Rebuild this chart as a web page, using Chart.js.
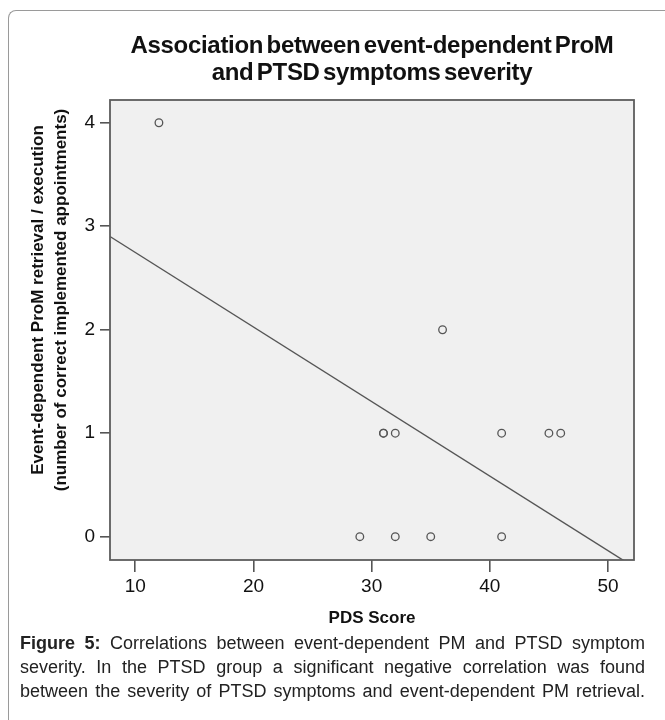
<!DOCTYPE html>
<html>
<head>
<meta charset="utf-8">
<script src="https://cdn.jsdelivr.net/npm/chart.js@4.4.1/dist/chart.umd.min.js"></script>
<style>
  body { margin: 0; background: #fff; font-family: "Liberation Sans", Arial, sans-serif; }
  #wrap { position: relative; width: 665px; height: 720px; overflow: hidden; }
  #frame { position: absolute; left: 8px; top: 10px; width: 720px; height: 760px;
           border-left: 1px solid #9a9a9a; border-top: 1px solid #9a9a9a; border-top-left-radius: 8px; }
  #title { position: absolute; left: 110px; width: 524px; top: 31px; text-align: center;
           font-weight: bold; font-size: 24px; line-height: 27px; color: #111; letter-spacing: -0.3px; word-spacing: -3px; }
  #ytitle { position: absolute; left: -161px; top: 277px; width: 420px; height: 46px; text-align: center;
            font-weight: bold; font-size: 17px; line-height: 23px; color: #111; transform: rotate(-90deg);
            white-space: nowrap; }
  #chart { position: absolute; left: 0; top: 0; }
  #caption { position: absolute; left: 20px; width: 625px; top: 631px; font-size: 18px; line-height: 24px;
             text-align: justify; text-align-last: justify; color: #222; white-space: nowrap; }
</style>
</head>
<body>
<div id="wrap">
  <div id="frame"></div>
  <canvas id="chart" width="665" height="640"></canvas>
  <div id="title">Association between event-dependent ProM<br>and PTSD symptoms severity</div>
  <div id="ytitle">Event-dependent ProM retrieval / execution<br>(number of correct implemented appointments)</div>
  <div id="caption"><b>Figure 5:</b> Correlations between event-dependent PM and PTSD symptom<br>severity. In the PTSD group a significant negative correlation was found<br>between the severity of PTSD symptoms and event-dependent PM retrieval.</div>
</div>
<script>
// PDS score (x) and correct implemented appointments (y)
const pdsScores = [12, 36, 31, 31, 32, 41, 45, 46, 29, 32, 35, 41];
const promScores = [4, 2, 1, 1, 1, 1, 1, 1, 0, 0, 0, 0];
const xTicks = [10, 20, 30, 40, 50];
const yTicks = [0, 1, 2, 3, 4];
const xRange = [7.86, 52.2];
const yRange = [-0.225, 4.22];

// least squares fit line
const n = pdsScores.length;
const mx = pdsScores.reduce((a, b) => a + b, 0) / n;
const my = promScores.reduce((a, b) => a + b, 0) / n;
let sxy = 0, sxx = 0;
for (let i = 0; i < n; i++) {
  sxy += (pdsScores[i] - mx) * (promScores[i] - my);
  sxx += (pdsScores[i] - mx) ** 2;
}
const slope = sxy / sxx;
const intercept = my - slope * mx;
const fitLine = xRange.map(x => ({ x: x, y: intercept + slope * x }));

const points = pdsScores.map((x, i) => ({ x: x, y: promScores[i] }));

const plotFrame = {
  id: 'plotFrame',
  beforeDatasetsDraw(chart) {
    const a = chart.chartArea, ctx = chart.ctx;
    ctx.save();
    ctx.fillStyle = '#f0f0f0';
    ctx.fillRect(a.left, a.top, a.right - a.left, a.bottom - a.top);
    ctx.restore();
  },
  afterDraw(chart) {
    const a = chart.chartArea, ctx = chart.ctx;
    ctx.save();
    ctx.strokeStyle = '#5c5c5c';
    ctx.lineWidth = 1.8;
    ctx.strokeRect(a.left, a.top, a.right - a.left, a.bottom - a.top);
    ctx.restore();
  }
};

new Chart(document.getElementById('chart').getContext('2d'), {
  type: 'scatter',
  data: {
    datasets: [{
      data: points,
      pointStyle: 'circle',
      pointRadius: 3.8,
      pointBackgroundColor: 'rgba(0,0,0,0)',
      pointBorderColor: '#555',
      pointBorderWidth: 1.3
    }, {
      data: fitLine,
      showLine: true,
      pointRadius: 0,
      borderColor: '#555',
      borderWidth: 1.4
    }]
  },
  plugins: [plotFrame],
  options: {
    responsive: false,
    animation: false,
    layout: { padding: { top: 100, right: 31, left: 0, bottom: 0 } },
    plugins: { legend: { display: false }, tooltip: { enabled: false } },
    scales: {
      x: {
        min: xRange[0], max: xRange[1],
        afterBuildTicks: s => { s.ticks = xTicks.map(v => ({ value: v })); },
        afterFit: s => { s.height = 80; },
        grid: { drawOnChartArea: false, drawTicks: true, tickLength: 12, color: '#555', lineWidth: 1.6 },
        border: { display: false },
        ticks: { font: { size: 19, family: 'Liberation Sans' }, color: '#111', padding: 3, maxRotation: 0 },
        title: { display: true, text: 'PDS Score', font: { size: 17, weight: 'bold', family: 'Liberation Sans' },
                 color: '#111', padding: { top: 0, bottom: 11 } }
      },
      y: {
        min: yRange[0], max: yRange[1],
        afterBuildTicks: s => { s.ticks = yTicks.map(v => ({ value: v })); },
        afterFit: s => { s.width = 110; },
        grid: { drawOnChartArea: false, drawTicks: true, tickLength: 10, color: '#555', lineWidth: 1.6 },
        border: { display: false },
        ticks: { font: { size: 19, family: 'Liberation Sans' }, color: '#111', padding: 5 }
      }
    }
  }
});
</script>
</body>
</html>
